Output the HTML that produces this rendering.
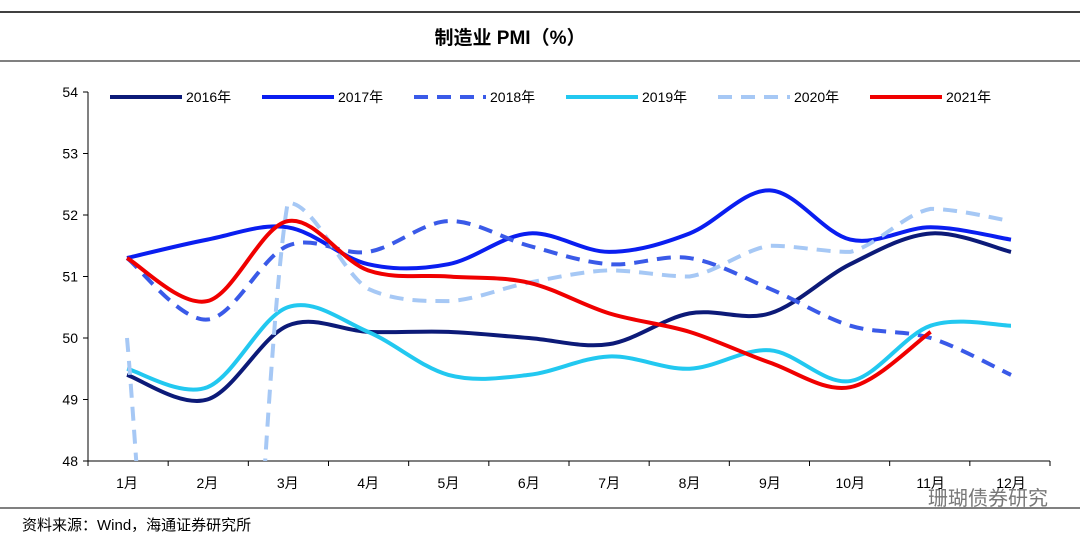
<!DOCTYPE html>
<html><head><meta charset="utf-8"><style>
html,body{margin:0;padding:0;background:#fff;width:1080px;height:547px;overflow:hidden;font-family:"Liberation Sans","Noto Sans CJK SC",sans-serif}
svg{display:block}
</style></head><body>
<svg id="c" width="1080" height="547" xmlns="http://www.w3.org/2000/svg">
<line x1="0" y1="12" x2="1080" y2="12" stroke="#000" stroke-width="1.5"/>
<line x1="0" y1="61" x2="1080" y2="61" stroke="#000" stroke-width="1"/>
<text x="510" y="44" text-anchor="middle" font-size="19" font-weight="bold" font-family="Liberation Sans,Noto Sans CJK SC,sans-serif">制造业 PMI（%）</text>
<line x1="0" y1="508" x2="1080" y2="508" stroke="#000" stroke-width="1"/>
<text x="22" y="530" font-size="15" font-family="Liberation Sans,Noto Sans CJK SC,sans-serif">资料来源：Wind，海通证券研究所</text>
<text x="1048" y="505" text-anchor="end" font-size="20" fill="#777" font-family="Liberation Sans,Noto Sans CJK SC,sans-serif">珊瑚债券研究</text>
<g id="axes"></g><g id="series"></g><g id="legend"></g>
</svg>
<script>
const categories=["1月","2月","3月","4月","5月","6月","7月","8月","9月","10月","11月","12月"];
const yTicks=[48,49,50,51,52,53,54];
const seriesNames=["2016年","2017年","2018年","2019年","2020年","2021年"];
const s2016=[49.4,49.0,50.2,50.1,50.1,50.0,49.9,50.4,50.4,51.2,51.7,51.4];
const s2017=[51.3,51.6,51.8,51.2,51.2,51.7,51.4,51.7,52.4,51.6,51.8,51.6];
const s2018=[51.3,50.3,51.5,51.4,51.9,51.5,51.2,51.3,50.8,50.2,50.0,49.4];
const s2019=[49.5,49.2,50.5,50.1,49.4,49.4,49.7,49.5,49.8,49.3,50.2,50.2];
const s2020=[50.0,35.7,52.2,50.8,50.6,50.9,51.1,51.0,51.5,51.4,52.1,51.9];
const s2021=[51.3,50.6,51.9,51.1,51.0,50.9,50.4,50.1,49.6,49.2,50.1];
const NS="http://www.w3.org/2000/svg";
const X0=88,X1=1050,Y0=92,Y1=461,ymin=48,ymax=54;
const xs=i=>127+i*(1011-127)/11;
const ys=v=>Y1-(v-ymin)/(ymax-ymin)*(Y1-Y0);
function mk(t,a,p){const e=document.createElementNS(NS,t);for(const k in a)e.setAttribute(k,a[k]);p.appendChild(e);return e;}
const ax=document.getElementById('axes');
const defs=mk('defs',{},ax);const cp=mk('clipPath',{id:'pc'},defs);mk('rect',{x:X0,y:Y0,width:X1-X0,height:Y1-Y0},cp);
let yl=mk('line',{x1:X0,y1:Y0,x2:X0,y2:Y1,stroke:'#000'},ax);


let xl=mk('line',{x1:X0,y1:Y1,x2:X1,y2:Y1,stroke:'#000'},ax);


yTicks.forEach(v=>{mk('line',{x1:X0-5,y1:ys(v),x2:X0,y2:ys(v),stroke:'#000'},ax);
const t=mk('text',{x:X0-10,y:ys(v)+5,'text-anchor':'end','font-size':14},ax);t.textContent=v;

});
categories.forEach((c,i)=>{const bx=X0+(i)*(X1-X0)/12;mk('line',{x1:bx,y1:Y1,x2:bx,y2:Y1+5,stroke:'#000'},ax);
const t=mk('text',{x:xs(i),y:Y1+27,'text-anchor':'middle','font-size':14,'font-family':'Liberation Sans,Noto Sans CJK SC,sans-serif'},ax);t.textContent=c;

});
mk('line',{x1:X1,y1:Y1,x2:X1,y2:Y1+5,stroke:'#000'},ax);
function path(d,clamp){const p=d.map((v,i)=>[xs(i),ys(v)]);let s=`M${p[0][0]},${p[0][1]}`;
for(let i=0;i<p.length-1;i++){const a=p[Math.max(0,i-1)],b=p[i],c=p[i+1],e=p[Math.min(p.length-1,i+2)];
let y1=b[1]+(c[1]-a[1])/6,y2=c[1]-(e[1]-b[1])/6;
if(clamp){const lo=Math.min(b[1],c[1]),hi=Math.max(b[1],c[1]);y1=Math.max(lo,Math.min(hi,y1));y2=Math.max(lo,Math.min(hi,y2));}
s+=` C${b[0]+(c[0]-a[0])/6},${y1} ${c[0]-(e[0]-b[0])/6},${y2} ${c[0]},${c[1]}`;}return s;}
const all=[s2016,s2017,s2018,s2019,s2020,s2021];
const cols=["#0c1a78","#0a1ef0","#3a5ae8","#22c8f0","#a6c8f5","#f00000"];
const dash=[null,null,"14,9",null,"14,9",null];
const ser=document.getElementById('series');
all.forEach((d,k)=>{const p=mk('path',{d:path(d,k===4),fill:'none',stroke:cols[k],'stroke-width':4,'clip-path':'url(#pc)'},ser);
if(dash[k])p.setAttribute('stroke-dasharray',dash[k]);

});
const lg=document.getElementById('legend');
seriesNames.forEach((n,k)=>{const x=110+k*152;const l=mk('line',{x1:x,y1:97,x2:x+72,y2:97,stroke:cols[k],'stroke-width':4},lg);
if(dash[k])l.setAttribute('stroke-dasharray',dash[k]);
const t=mk('text',{x:x+76,y:102,'font-size':14,'font-family':'Liberation Sans,Noto Sans CJK SC,sans-serif'},lg);t.textContent=n;

});
</script>
</body></html>
